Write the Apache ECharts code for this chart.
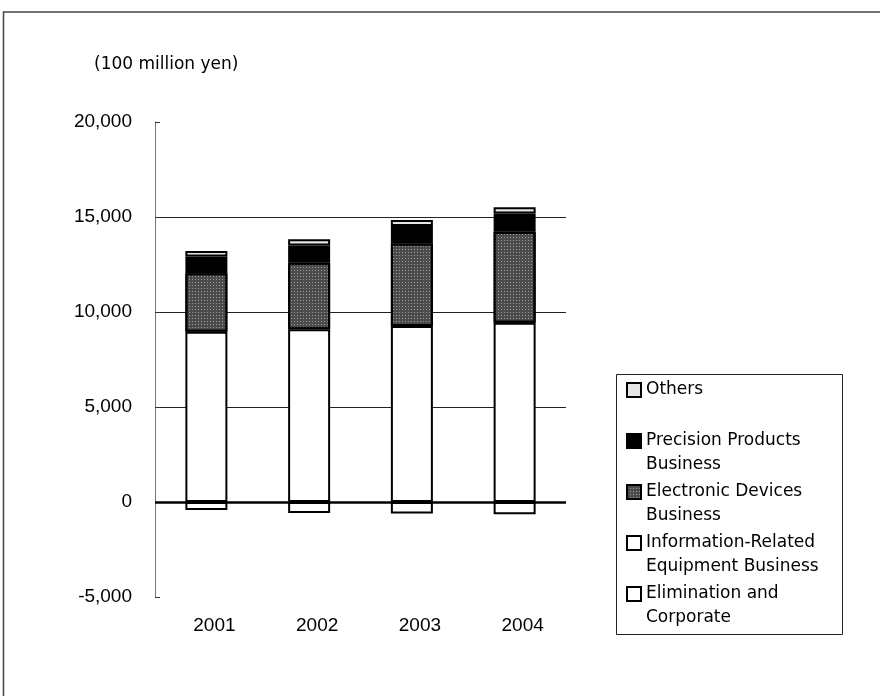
<!DOCTYPE html>
<html>
<head>
<meta charset="utf-8">
<script src="https://cdn.jsdelivr.net/npm/echarts@6/dist/echarts.min.js"></script>
<style>
  html, body { margin: 0; padding: 0; background: #fff; }
  #chart { width: 880px; height: 696px; }
</style>
</head>
<body>
<div id="chart"></div>
<script>
// Fiscal years on the category axis
const years = ['2001', '2002', '2003', '2004'];

// Segment sales, 100 million yen
const infoEquipment = [8960, 9090, 9260, 9440];
const electronicDevices = [3080, 3500, 4350, 4790];
const precisionProducts = [880, 910, 920, 960];
const others = [290, 330, 310, 320];
const elimination = [-420, -580, -600, -640];

// Value axis ticks
const yMin = -5000;
const yMax = 20000;
const yStep = 5000;

const unitLabel = '(100 million yen)';

// Legend entries top to bottom, with their wrapped display text
const legendNames = [
  'Others',
  'Precision Products Business',
  'Electronic Devices Business',
  'Information-Related Equipment Business',
  'Elimination and Corporate'
];
const legendText = {
  'Others': '\nOthers\n ',
  'Precision Products Business': '\nPrecision Products\nBusiness',
  'Electronic Devices Business': '\nElectronic Devices\nBusiness',
  'Information-Related Equipment Business': '\nInformation-Related\nEquipment Business',
  'Elimination and Corporate': '\nElimination and\nCorporate'
};

const chart = echarts.init(document.getElementById('chart'), null, { renderer: 'canvas' });

const edge = { borderColor: '#000', borderWidth: 2 };

function seg(name, data, itemStyle, extra) {
  return Object.assign({
    name: name,
    type: 'bar',
    stack: 'sales',
    barWidth: 42,
    data: data,
    itemStyle: Object.assign({}, edge, itemStyle)
  }, extra || {});
}

chart.setOption({
  animation: false,
  backgroundColor: '#fff',
  textStyle: { fontFamily: 'Liberation Sans, Arial, sans-serif' },
  title: {
    text: unitLabel,
    left: 89,
    top: 51,
    textStyle: { fontFamily: 'DejaVu Sans', fontSize: 17, fontWeight: 'normal', color: '#000' }
  },
  graphic: [
    {
      type: 'rect',
      shape: { x: 3.5, y: 12, width: 920, height: 720 },
      style: { fill: 'none', stroke: '#444', lineWidth: 1.5 },
      silent: true
    },
    {
      type: 'rect',
      shape: { x: 616.5, y: 374.5, width: 226, height: 260 },
      style: { fill: 'none', stroke: '#222', lineWidth: 1 },
      silent: true
    }
  ],
  legend: {
    orient: 'vertical',
    left: 626,
    top: 354,
    padding: 0,
    itemGap: -21,
    itemWidth: 14,
    itemHeight: 14,
    icon: 'rect',
    data: legendNames,
    formatter: function (n) { return legendText[n]; },
    textStyle: { fontFamily: 'DejaVu Sans', fontSize: 17, lineHeight: 24, color: '#000' },
    selectedMode: false
  },
  grid: { left: 155, right: 314, top: 122, height: 475, containLabel: false },
  xAxis: {
    type: 'category',
    data: years,
    axisLine: { show: false, onZero: false },
    axisTick: { show: false },
    axisLabel: {
      margin: 19,
      fontSize: 19,
      color: '#000',
      padding: [0, 0, 0, 16]
    }
  },
  yAxis: {
    type: 'value',
    min: yMin,
    max: yMax,
    interval: yStep,
    axisLine: { show: true, lineStyle: { color: '#777', width: 1 } },
    axisTick: { show: true, inside: true, length: 5, lineStyle: { color: '#333' } },
    axisLabel: {
      margin: 23,
      fontSize: 19,
      color: '#000',
      formatter: function (v) { return v.toLocaleString('en-US'); }
    },
    splitLine: {
      show: true,
      lineStyle: {
        color: ['transparent', 'transparent', '#222', '#222', '#222', 'transparent'],
        width: 1
      }
    }
  },
  series: [
    seg('Elimination and Corporate', elimination, { color: '#fff' }, {
      markLine: {
        silent: true,
        symbol: 'none',
        label: { show: false },
        lineStyle: { color: '#000', width: 2.5, type: 'solid' },
        data: [{ yAxis: 0 }]
      }
    }),
    seg('Information-Related Equipment Business', infoEquipment, { color: '#fff' }),
    seg('Electronic Devices Business', electronicDevices, {
      color: '#4c4c4c',
      decal: {
        symbol: 'rect',
        symbolSize: 1,
        color: 'rgba(255,255,255,0.45)',
        dashArrayX: [1, 2],
        dashArrayY: [1, 2],
        rotation: 0
      }
    }),
    seg('Precision Products Business', precisionProducts, { color: '#000' }),
    seg('Others', others, { color: '#e6e6e6' })
  ]
});
</script>
</body>
</html>
